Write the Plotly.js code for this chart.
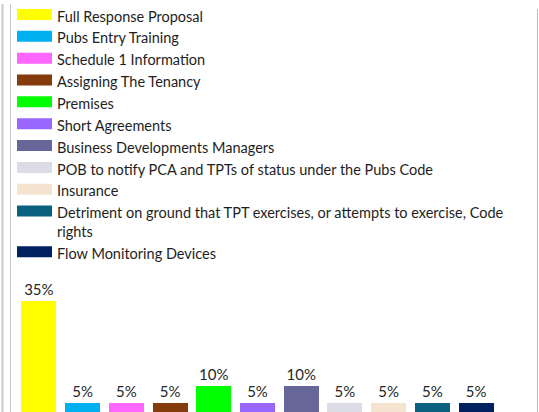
<!DOCTYPE html>
<html>
<head>
<meta charset="utf-8">
<script src="https://cdn.plot.ly/plotly-3.0.1.min.js"></script>
<style>html,body{margin:0;padding:0;background:#fff;}#chart{width:539px;height:412px;}</style>
</head>
<body>
<div id="chart"></div>
<script>
var categories = [
  "Full Response Proposal",
  "Pubs Entry Training",
  "Schedule 1 Information",
  "Assigning The Tenancy",
  "Premises",
  "Short Agreements",
  "Business Developments Managers",
  "POB to notify PCA and TPTs of status under the Pubs Code",
  "Insurance",
  "Detriment on ground that TPT exercises, or attempts to exercise, Code<br>rights",
  "Flow Monitoring Devices"
];
var values = [35, 5, 5, 5, 10, 5, 10, 5, 5, 5, 5];
var colors = ["#FFFF00", "#00B0F0", "#FF66FF", "#843C0C", "#00FF00", "#9966FF",
              "#666699", "#DCDCE6", "#F4E3CF", "#0B5F7F", "#002060"];

var traces = [];
categories.forEach(function (c, i) {
  traces.push({
    type: "bar",
    x: [c],
    y: [values[i]],
    name: c,
    legendgroup: "g" + i,
    showlegend: false,
    marker: {color: colors[i]},
    text: [values[i] + "%"],
    textposition: "outside",
    cliponaxis: false,
    textfont: {family: "Lato, sans-serif", size: 15, color: "#262626"},
    hoverinfo: "x+y"
  });
  traces.push({
    type: "scatter",
    mode: "lines",
    x: [null],
    y: [null],
    name: c,
    legendgroup: "g" + i,
    showlegend: true,
    fill: "toself",
    fillcolor: colors[i],
    line: {color: colors[i], width: 10},
    hoverinfo: "skip"
  });
});

var layout = {
  width: 539,
  height: 412,
  margin: {l: 17, r: 41, t: 0, b: 0},
  paper_bgcolor: "#ffffff",
  plot_bgcolor: "#ffffff",
  barmode: "stack",
  bargap: 0.2,
  showlegend: true,
  legend: {
    x: -5 / 481, xanchor: "left", y: 1 + 4 / 412, yanchor: "top",
    font: {family: "Lato, sans-serif", size: 14.5, color: "#1e1e1e"},
    itemwidth: 35,
    tracegroupgap: 0,
    valign: "top",
    maxheight: 412,
    bgcolor: "rgba(0,0,0,0)"
  },
  xaxis: {type: "category", showticklabels: false, showgrid: false, zeroline: false, showline: false, ticks: ""},
  yaxis: {range: [2.42, 122.6], showticklabels: false, showgrid: false, zeroline: false, showline: false, ticks: ""},
  shapes: [
    {type: "line", xref: "paper", yref: "paper", x0: -14.5/481, x1: -14.5/481, y0: 0, y1: 1, line: {color: "#cccccc", width: 2}},
    {type: "line", xref: "paper", yref: "paper", x0: -6.5/481, x1: -6.5/481, y0: 0, y1: 1, line: {color: "#c4c4c4", width: 1}},
    {type: "line", xref: "paper", yref: "paper", x0: 520.5/481, x1: 520.5/481, y0: 0, y1: 1 - 5/412, line: {color: "#bbbbbb", width: 1}}
  ]
};

Plotly.newPlot("chart", traces, layout, {displayModeBar: false, staticPlot: true});
</script>
</body>
</html>
